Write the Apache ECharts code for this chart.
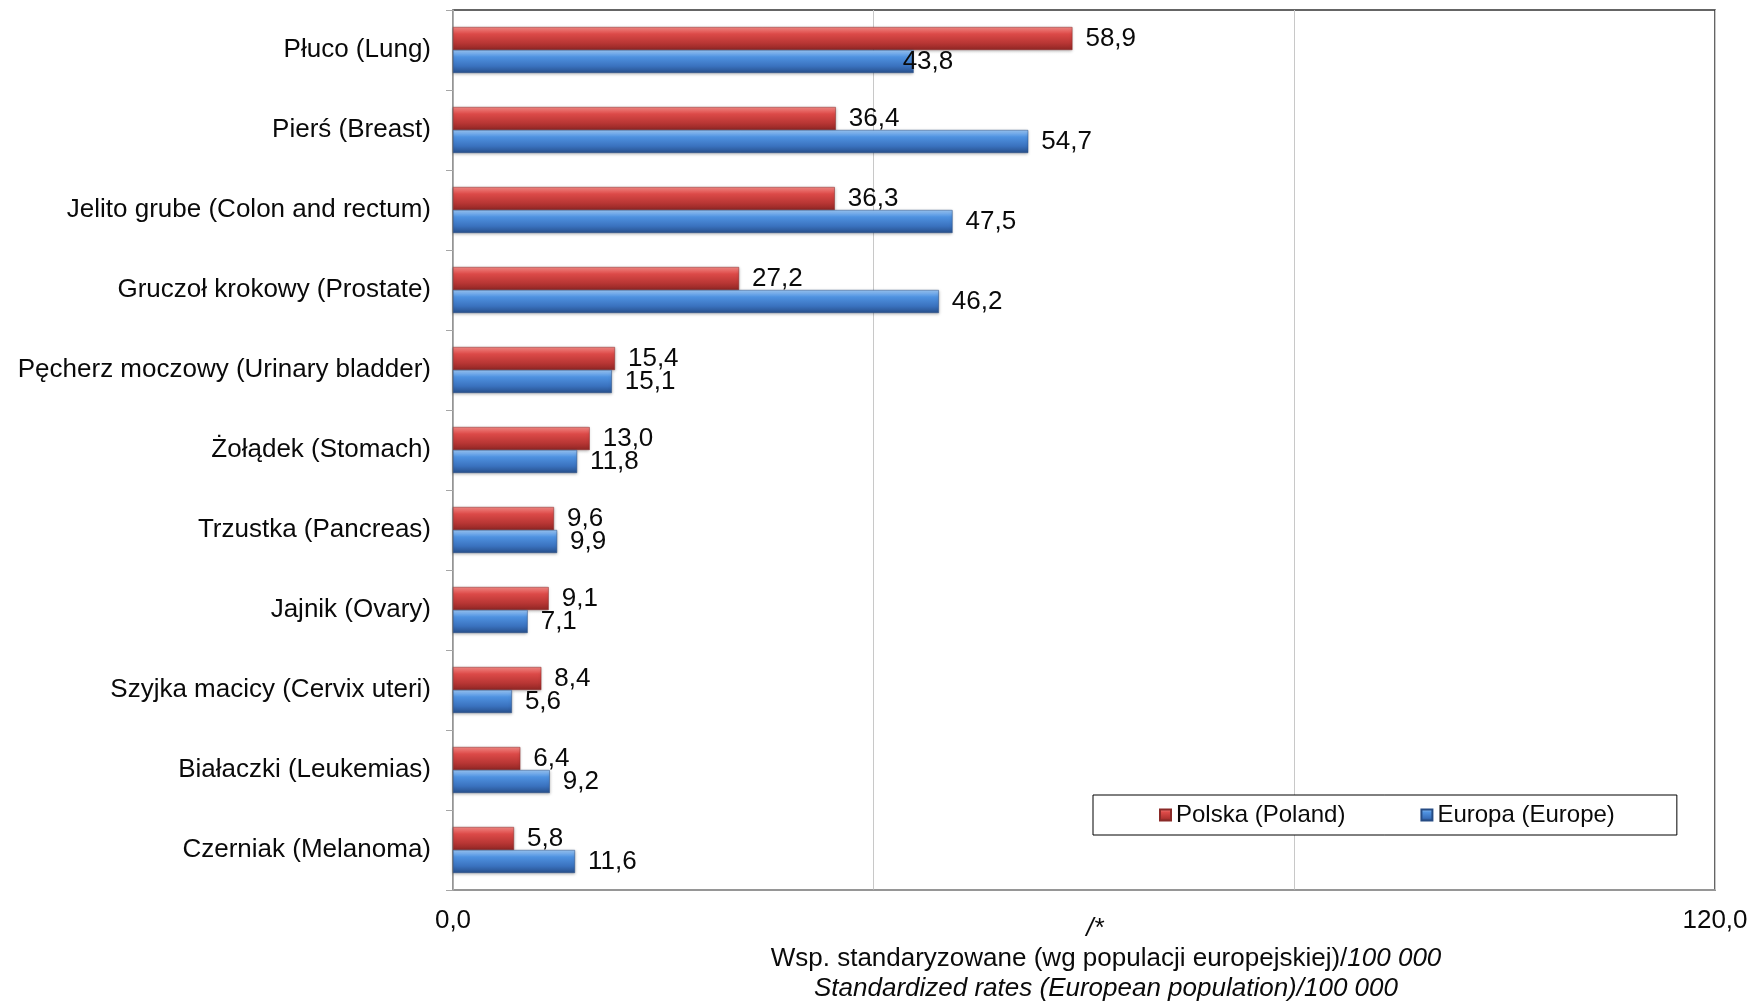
<!DOCTYPE html>
<html>
<head>
<meta charset="utf-8">
<script src="https://cdn.jsdelivr.net/npm/echarts@6/dist/echarts.min.js"></script>
<style>
html,body{margin:0;padding:0;background:#fff;}
#chart{width:1754px;height:1002px;}
</style>
</head>
<body>
<div id="chart"></div>
<script>
const categories = [
  'Płuco (Lung)',
  'Pierś (Breast)',
  'Jelito grube (Colon and rectum)',
  'Gruczoł krokowy (Prostate)',
  'Pęcherz moczowy (Urinary bladder)',
  'Żołądek (Stomach)',
  'Trzustka (Pancreas)',
  'Jajnik (Ovary)',
  'Szyjka macicy (Cervix uteri)',
  'Białaczki (Leukemias)',
  'Czerniak (Melanoma)'
];
const polska = [58.9, 36.4, 36.3, 27.2, 15.4, 13.0, 9.6, 9.1, 8.4, 6.4, 5.8];
const europa = [43.8, 54.7, 47.5, 46.2, 15.1, 11.8, 9.9, 7.1, 5.6, 9.2, 11.6];
const seriesNames = ['Polska (Poland)', 'Europa (Europe)'];
const axisTickLabels = {0: '0,0', 120: '120,0'};

const FONT = '"Liberation Sans", Arial, sans-serif';
const fmt = v => v.toFixed(1).replace('.', ',');

function grad(c1, c2, c3, c4) {
  return new echarts.graphic.LinearGradient(0, 0, 0, 1, [
    {offset: 0, color: c1},
    {offset: 0.3, color: c2},
    {offset: 0.7, color: c3},
    {offset: 1, color: c4}
  ]);
}
const redFill = grad('#f58a86', '#dc4a48', '#b83634', '#8f2624');
const blueFill = grad('#9cc8f7', '#4f92e0', '#3a72bf', '#274f8a');

const labelCommon = {
  show: true,
  position: 'right',
  distance: 13,
  fontFamily: FONT,
  fontSize: 26,
  color: '#0a0a0a',
  formatter: p => fmt(p.value)
};

const chart = echarts.init(document.getElementById('chart'));
chart.setOption({
  animation: false,
  backgroundColor: '#fff',
  grid: {
    left: 453, right: 39, top: 10, bottom: 112,
    outerBoundsMode: 'none', containLabel: false,
    show: true, borderColor: '#333', borderWidth: 1.5, backgroundColor: 'transparent'
  },
  legend: {
    left: 1093, top: 795,
    padding: [8, 62, 8, 66],
    itemGap: 75,
    itemWidth: 11, itemHeight: 11,
    icon: 'rect',
    borderColor: '#000', borderWidth: 1,
    backgroundColor: '#fff',
    textStyle: {fontFamily: FONT, fontSize: 24, color: '#0a0a0a', padding: [2, 0, 0, 0]},
    data: seriesNames
  },
  xAxis: {
    type: 'value', min: 0, max: 120, interval: 40,
    axisLine: {show: true, lineStyle: {color: '#a6a6a6', width: 1.5}},
    axisTick: {show: false},
    splitLine: {show: true, lineStyle: {color: '#c8c8c8', width: 1}},
    axisLabel: {
      margin: 18, fontFamily: FONT, fontSize: 26, color: '#0a0a0a',
      formatter: v => axisTickLabels[v] !== undefined ? axisTickLabels[v] : ''
    },
    name: '{a|/*}\n{n|Wsp. standaryzowane (wg populacji europejskiej)/}{i|100 000}\n{i|Standardized rates (European population)/100 000}',
    nameLocation: 'middle',
    nameMoveOverlap: false,
    nameGap: 24,
    nameTextStyle: {
      padding: [0, 0, 0, 44],
      lineHeight: 30,
      rich: {
        a: {fontFamily: FONT, fontSize: 26, fontStyle: 'italic', color: '#0a0a0a', lineHeight: 30, padding: [0, 22, 0, 0]},
        n: {fontFamily: FONT, fontSize: 26, color: '#0a0a0a', lineHeight: 30},
        i: {fontFamily: FONT, fontSize: 26, fontStyle: 'italic', color: '#0a0a0a', lineHeight: 30}
      }
    }
  },
  yAxis: {
    type: 'category', inverse: true, data: categories,
    axisLine: {show: true, lineStyle: {color: '#a6a6a6', width: 1.5}},
    axisTick: {show: true, length: 7, lineStyle: {color: '#a6a6a6'}},
    axisLabel: {margin: 22, fontFamily: FONT, fontSize: 26, color: '#0a0a0a'}
  },
  series: [
    {
      name: seriesNames[0], type: 'bar', data: polska,
      barWidth: 23, barGap: '0%',
      itemStyle: {color: redFill, borderColor: '#8a2a28', borderWidth: 0.5,
        shadowColor: 'rgba(0,0,0,0.25)', shadowBlur: 3, shadowOffsetY: 1},
      label: labelCommon
    },
    {
      name: seriesNames[1], type: 'bar',
      data: europa.map((v, i) => i === 0 ? {value: v, label: {offset: [-24, 0]}} : v),
      barWidth: 23, barGap: '0%',
      itemStyle: {color: blueFill, borderColor: '#264c84', borderWidth: 0.5,
        shadowColor: 'rgba(0,0,0,0.25)', shadowBlur: 3, shadowOffsetY: 1},
      label: labelCommon
    }
  ]
});
</script>
</body>
</html>
